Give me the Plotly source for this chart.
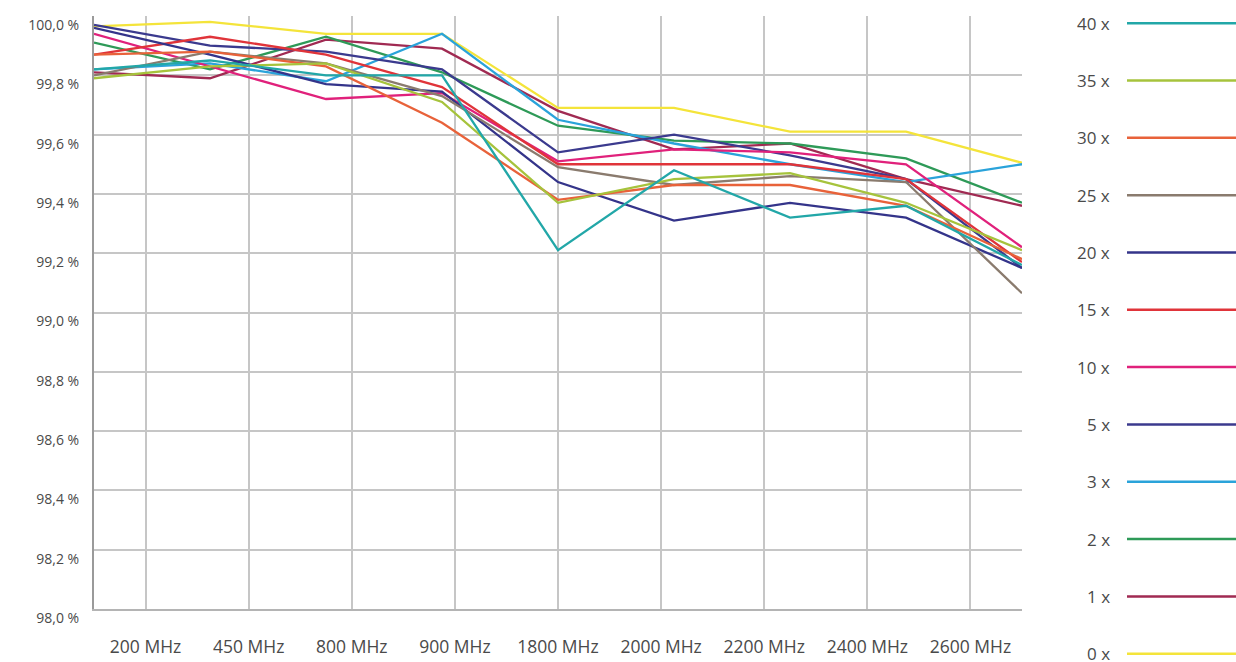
import plotly.graph_objects as go

# ---------------- data ----------------
frequencies = ["200 MHz", "450 MHz", "800 MHz", "900 MHz", "1800 MHz",
               "2000 MHz", "2200 MHz", "2400 MHz", "2600 MHz"]
measure_index = [0, 1, 2, 3, 4, 5, 6, 7, 8]

series_names = ["40 x", "35 x", "30 x", "25 x", "20 x", "15 x",
                "10 x", "5 x", "3 x", "2 x", "1 x", "0 x"]

v40 = [99.82, 99.85, 99.80, 99.80, 99.21, 99.48, 99.32, 99.36, 99.16]
v35 = [99.79, 99.83, 99.84, 99.71, 99.37, 99.45, 99.47, 99.37, 99.21]
v30 = [99.87, 99.88, 99.83, 99.64, 99.38, 99.43, 99.43, 99.36, 99.18]
v25 = [99.80, 99.88, 99.84, 99.73, 99.49, 99.43, 99.46, 99.44, 99.065]
v20 = [99.96, 99.87, 99.77, 99.745, 99.44, 99.31, 99.37, 99.32, 99.15]
v15 = [99.87, 99.93, 99.87, 99.76, 99.50, 99.50, 99.50, 99.45, 99.17]
v10 = [99.94, 99.83, 99.72, 99.74, 99.51, 99.55, 99.54, 99.50, 99.22]
v5 = [99.97, 99.90, 99.88, 99.82, 99.54, 99.60, 99.53, 99.45, 99.15]
v3 = [99.82, 99.84, 99.78, 99.94, 99.65, 99.57, 99.50, 99.44, 99.50]
v2 = [99.91, 99.82, 99.93, 99.81, 99.63, 99.58, 99.57, 99.52, 99.37]
v1 = [99.81, 99.79, 99.92, 99.89, 99.68, 99.55, 99.57, 99.45, 99.36]
v0 = [99.965, 99.98, 99.94, 99.94, 99.69, 99.69, 99.61, 99.61, 99.505]

series_values = [v40, v35, v30, v25, v20, v15, v10, v5, v3, v2, v1, v0]

series_colors = ["#22a7a8", "#a6c33c", "#e8623a", "#8a7b6e", "#34348a", "#e0343a",
                 "#e0217b", "#3b3a8e", "#2aa3da", "#2e9a58", "#a02a52", "#f4e43a"]

y_ticks = [98.0, 98.2, 98.4, 98.6, 98.8, 99.0, 99.2, 99.4, 99.6, 99.8, 100.0]

# ---------------- figure ----------------
# the captured picture comes out slightly squeezed vertically; lay out on a 670px page
VS = 662 / 670
W, H = 1236, 670
L, R = 94, 214
T = round(16 / VS)
B = H - round(610 / VS)
plot_w = W - L - R
plot_h = H - T - B

FONT = "Open Sans"
TXT = "#4a4a4a"

fig = go.Figure()

for name, vals, col in reversed(list(zip(series_names, series_values, series_colors))):
    fig.add_trace(go.Scatter(
        x=measure_index, y=vals, mode="lines", name=name,
        line=dict(color=col, width=2.3), showlegend=False,
        hovertemplate="%{y:.2f} %<extra>" + name + "</extra>",
    ))

n_cat = len(frequencies)
span = len(measure_index) - 1
cat_positions = [(i + 0.5) * span / n_cat for i in range(n_cat)]
y_ticktext = [f"{v:.1f}".replace(".", ",") + " %" for v in y_ticks]

fig.update_layout(
    width=W, height=H,
    margin=dict(l=L, r=R, t=T, b=B, pad=0),
    paper_bgcolor="white", plot_bgcolor="white",
    font=dict(family=FONT, size=15, color=TXT),
    showlegend=False,
    xaxis=dict(
        range=[0, span], tickmode="array", tickvals=cat_positions, ticktext=frequencies,
        showgrid=True, gridcolor="#c6c6c6", gridwidth=1.5,
        showline=True, linecolor="#b4b4b4", linewidth=2,
        zeroline=False, ticks="", ticklabelstandoff=21,
        tickfont=dict(family=FONT, size=17.5, color=TXT),
    ),
    yaxis=dict(
        range=[98.0, 100.0], tickmode="array", tickvals=y_ticks, ticktext=y_ticktext,
        showgrid=True, gridcolor="#c6c6c6", gridwidth=1.5,
        showline=True, linecolor="#9a9a9a", linewidth=2,
        zeroline=False, ticks="", ticklabelstandoff=10, ticklabelshift=9,
        tickfont=dict(family=FONT, size=14, color=TXT),
    ),
)

# custom legend on the right (text left of the line sample)
leg_top_px = 23 / VS
leg_step_px = 57.4 / VS
text_right_px = 1112
line_x0_px = 1127
line_x1_px = 1236
for i, (name, col) in enumerate(zip(series_names, series_colors)):
    py = leg_top_px + i * leg_step_px
    yp = (H - B - py) / plot_h
    fig.add_annotation(
        x=(text_right_px - L) / plot_w, y=yp, xref="paper", yref="paper",
        text=name, showarrow=False, xanchor="right", yanchor="middle",
        font=dict(family=FONT, size=17, color=TXT),
    )
    fig.add_shape(
        type="line", xref="paper", yref="paper",
        x0=(line_x0_px - L) / plot_w, x1=(line_x1_px - L) / plot_w, y0=yp, y1=yp,
        line=dict(color=col, width=2.5),
    )

fig.write_html(
    "out.html",
    config={"displayModeBar": False},
    post_script="document.body.style.margin='0px';document.body.style.overflow='hidden';",
)
